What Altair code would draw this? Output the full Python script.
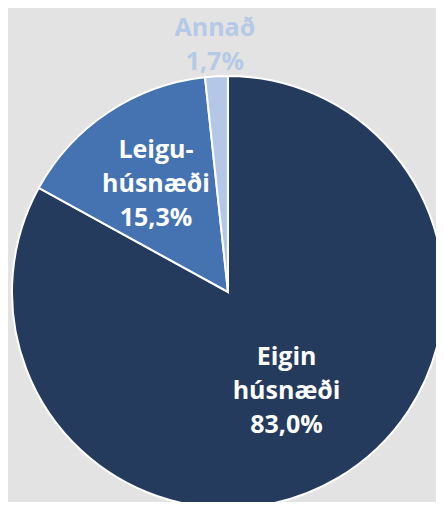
import altair as alt
import pandas as pd

# Data
categories = ["Eigin húsnæði", "Leigu-húsnæði", "Annað"]
label_lines = [["Eigin", "húsnæði"], ["Leigu-", "húsnæði"], ["Annað"]]
shares = [83.0, 15.3, 1.7]

slice_colors = ["#243b5e", "#4573b1", "#b4c7e6"]
text_colors = ["#ffffff", "#ffffff", "#b6c9e7"]
label_radius = [115, 130, 247]

df = pd.DataFrame({
    "cat": categories,
    "order": list(range(len(categories))),
    "value": shares,
    "label": ["\n".join(lines + [f"{v:.1f}".replace(".", ",") + "%"])
              for lines, v in zip(label_lines, shares)],
    "nlines": [len(lines) + 1 for lines in label_lines],
    "lr": label_radius,
})

CX, CY, R = 220, 284, 216
LH = 34

pie = alt.Chart(df).mark_arc(stroke="white", strokeWidth=2, outerRadius=R).encode(
    theta=alt.Theta("value:Q", stack=True),
    order=alt.Order("order:Q"),
    x=alt.value(CX),
    y=alt.value(CY),
    color=alt.Color("cat:N", scale=alt.Scale(domain=categories, range=slice_colors), legend=None),
)

labels = alt.Chart(df).transform_window(
    cum="sum(value)", sort=[alt.SortField("order")]
).transform_joinaggregate(
    total="sum(value)"
).transform_calculate(
    ang="2 * PI * (datum.cum - datum.value / 2) / datum.total",
    lx=f"{CX} + datum.lr * sin(datum.ang)",
    ly=f"{CY} - datum.lr * cos(datum.ang) - (datum.nlines - 1) / 2 * {LH}",
).mark_text(
    font="Open Sans", fontSize=25, fontWeight="bold",
    lineBreak="\n", lineHeight=LH, align="center", baseline="middle",
).encode(
    x=alt.X("lx:Q", scale=None, axis=None),
    y=alt.Y("ly:Q", scale=None, axis=None),
    text="label:N",
    color=alt.Color("cat:N", scale=alt.Scale(domain=categories, range=text_colors), legend=None),
)

chart = (pie + labels).resolve_scale(color="independent").properties(
    width=428, height=494,
    autosize=alt.AutoSizeParams(type="none"),
    padding=0,
    background="#e3e3e3",
).configure_view(stroke=None)

chart.save("out.html", embed_options={"renderer": "svg", "actions": False})
